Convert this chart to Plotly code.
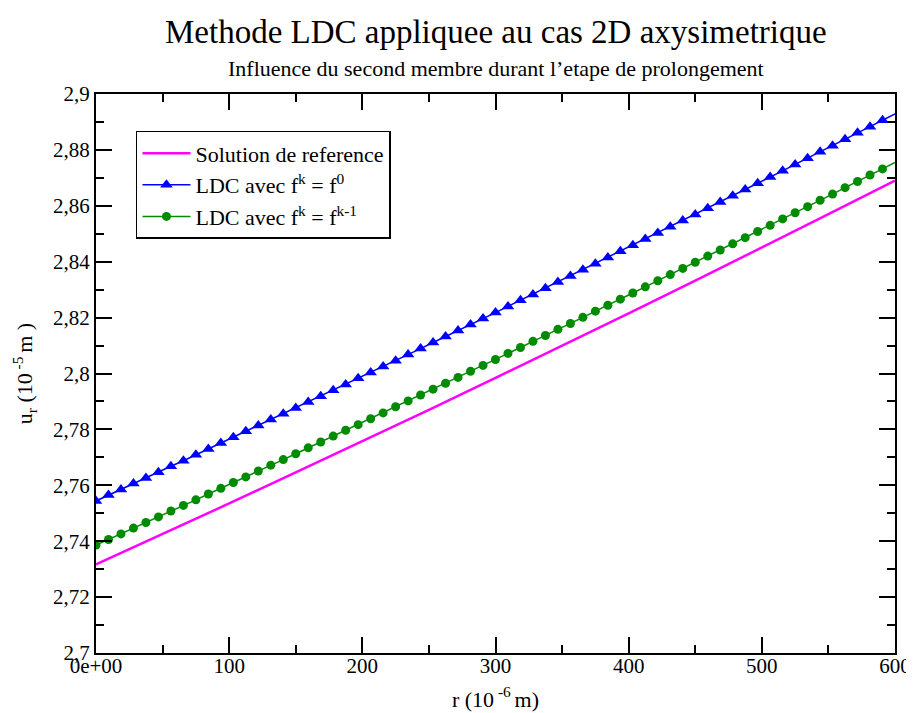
import plotly.graph_objects as go

# r values (10^-6 m): 64 sample points plus the domain end
r_pts = [i * 9.375 for i in range(65)]

u_ldc_f0 = [
    2.7544, 2.7565, 2.7585, 2.7606, 2.7626, 2.7647, 2.7668, 2.7688, 2.7709, 2.7730,
    2.7751, 2.7772, 2.7793, 2.7814, 2.7835, 2.7856, 2.7877, 2.7898, 2.7919, 2.7940,
    2.7961, 2.7983, 2.8004, 2.8025, 2.8046, 2.8068, 2.8089, 2.8111, 2.8132, 2.8154,
    2.8175, 2.8197, 2.8218, 2.8240, 2.8262, 2.8283, 2.8305, 2.8327, 2.8349, 2.8371,
    2.8393, 2.8415, 2.8437, 2.8459, 2.8481, 2.8503, 2.8525, 2.8547, 2.8569, 2.8591,
    2.8614, 2.8636, 2.8658, 2.8681, 2.8703, 2.8725, 2.8748, 2.8770, 2.8793, 2.8815,
    2.8838, 2.8861, 2.8883, 2.8906, 2.8929,
]

u_ldc_fk1 = [
    2.7386, 2.7406, 2.7426, 2.7447, 2.7467, 2.7487, 2.7508, 2.7528, 2.7548, 2.7569,
    2.7589, 2.7610, 2.7630, 2.7651, 2.7672, 2.7692, 2.7713, 2.7734, 2.7755, 2.7776,
    2.7797, 2.7817, 2.7838, 2.7859, 2.7881, 2.7902, 2.7923, 2.7944, 2.7965, 2.7986,
    2.8008, 2.8029, 2.8050, 2.8072, 2.8093, 2.8115, 2.8136, 2.8158, 2.8179, 2.8201,
    2.8223, 2.8244, 2.8266, 2.8288, 2.8310, 2.8332, 2.8354, 2.8376, 2.8398, 2.8420,
    2.8442, 2.8464, 2.8486, 2.8508, 2.8530, 2.8553, 2.8575, 2.8597, 2.8620, 2.8642,
    2.8665, 2.8687, 2.8710, 2.8732, 2.8755,
]

r_ref = [0, 50, 100, 150, 200, 250, 300, 350, 400, 450, 500, 550, 600]
u_ref = [2.7317, 2.7425, 2.7535, 2.7646, 2.7757, 2.7870, 2.7984, 2.8099, 2.8215,
         2.8332, 2.8450, 2.8570, 2.8690]

x_tickvals = [0, 100, 200, 300, 400, 500, 600]
x_ticktext = ["0e+00", "100", "200", "300", "400", "500", "600"]
y_tickvals = [2.7, 2.72, 2.74, 2.76, 2.78, 2.8, 2.82, 2.84, 2.86, 2.88, 2.9]
y_ticktext = ["2,7", "2,72", "2,74", "2,76", "2,78", "2,8", "2,82", "2,84", "2,86", "2,88", "2,9"]

FONT = "Liberation Serif, Times New Roman, serif"
BLUE = "#0000ff"
GREEN = "#008b00"
MAGENTA = "#ff00ff"

fig = go.Figure()

fig.add_trace(go.Scatter(
    x=r_ref, y=u_ref, mode="lines", name="Solution de reference",
    line=dict(color=MAGENTA, width=2.5),
))
fig.add_trace(go.Scatter(
    x=r_pts[:-1], y=u_ldc_f0[:-1], mode="lines+markers",
    name="LDC avec f<sup>k</sup> = f<sup>0</sup>",
    line=dict(color=BLUE, width=1.5),
    marker=dict(symbol="triangle-up", size=11, color=BLUE),
))
fig.add_trace(go.Scatter(
    x=r_pts[-2:], y=u_ldc_f0[-2:], mode="lines", showlegend=False,
    line=dict(color=BLUE, width=1.5), hoverinfo="skip",
))
fig.add_trace(go.Scatter(
    x=r_pts[:-1], y=u_ldc_fk1[:-1], mode="lines+markers",
    name="LDC avec f<sup>k</sup> = f<sup>k-1</sup>",
    line=dict(color=GREEN, width=1.5),
    marker=dict(symbol="circle", size=9, color=GREEN),
))
fig.add_trace(go.Scatter(
    x=r_pts[-2:], y=u_ldc_fk1[-2:], mode="lines", showlegend=False,
    line=dict(color=GREEN, width=1.5), hoverinfo="skip",
))

axis_common = dict(
    showgrid=False, zeroline=False, showline=True, linecolor="black", linewidth=2,
    mirror="ticks", ticks="inside", ticklen=16, tickwidth=1.5, tickcolor="black",
    tickfont=dict(family=FONT, size=21, color="black"), automargin=False,
)

fig.update_xaxes(
    range=[0, 600], tickmode="array", tickvals=x_tickvals, ticktext=x_ticktext,
    minor=dict(ticks="inside", ticklen=8, tickwidth=1.5, tickcolor="black", dtick=50, tick0=0),
    ticklabelstandoff=-7,
    title=dict(text="r (10<sup> -6 </sup>m)", font=dict(family=FONT, size=22, color="black"), standoff=14),
    **axis_common,
)
fig.update_yaxes(
    range=[2.7, 2.9], tickmode="array", tickvals=y_tickvals, ticktext=y_ticktext,
    minor=dict(ticks="inside", ticklen=8, tickwidth=1.5, tickcolor="black", dtick=0.01, tick0=2.7),
    title=dict(text="u<sub>r</sub> (10<sup> -5 </sup>m )", font=dict(family=FONT, size=22, color="black"), standoff=14),
    **axis_common,
)

fig.update_layout(
    width=914, height=713,
    margin=dict(l=88, r=27, t=86, b=68),
    paper_bgcolor="white", plot_bgcolor="white",
    font=dict(family=FONT, color="black"),
    showlegend=True,
    legend=dict(
        x=0.05, y=0.934, xanchor="left", yanchor="top",
        bordercolor="black", borderwidth=1.5, bgcolor="white",
        font=dict(family=FONT, size=22, color="black"),
        tracegroupgap=0, itemwidth=48,
    ),
    annotations=[
        dict(text="Methode LDC appliquee au cas 2D axysimetrique", xref="paper", yref="paper",
             x=0.5, y=1.111, xanchor="center", yanchor="middle", showarrow=False,
             font=dict(family=FONT, size=33, color="black")),
        dict(text="Influence du second membre durant l\u2019etape de prolongement", xref="paper", yref="paper",
             x=0.5, y=1.0465, xanchor="center", yanchor="middle", showarrow=False,
             font=dict(family=FONT, size=22, color="black")),
    ],
)

fig.write_html("out.html")
